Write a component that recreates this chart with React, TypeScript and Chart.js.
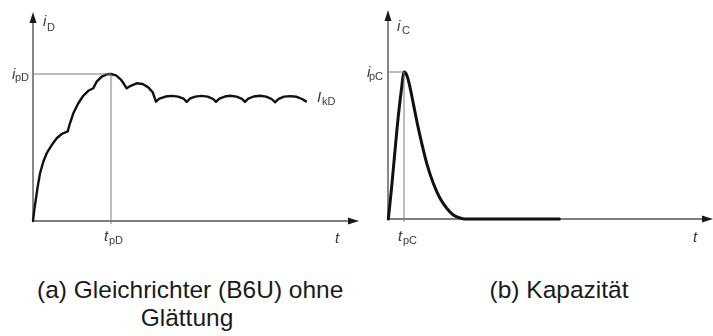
import React, { useEffect, useRef } from "react";
import { Chart, registerables } from "chart.js";

Chart.register(...registerables);

// ---- Panel (a): rectifier current i_D (x: t / t_pD, y: i / i_pD)
const diodeT = [
  0, 0.017, 0.035, 0.06, 0.09, 0.132, 0.176, 0.24, 0.304, 0.368, 0.445,
  0.474, 0.517, 0.581, 0.645, 0.709, 0.773,
  0.817, 0.881, 0.945, 1.0, 1.064, 1.124, 1.167, 1.201,
  1.253, 1.329, 1.406, 1.478, 1.535, 1.577,
  1.62, 1.7, 1.78, 1.86, 1.93, 1.971,
  2.01, 2.08, 2.16, 2.24, 2.31, 2.346,
  2.39, 2.46, 2.53, 2.61, 2.68, 2.718,
  2.76, 2.83, 2.91, 2.99, 3.06, 3.103,
  3.15, 3.22, 3.3, 3.38, 3.45, 3.5,
];
const diodeI = [
  0, 0.075, 0.143, 0.233, 0.324, 0.403, 0.461, 0.517, 0.563, 0.592, 0.61,
  0.665, 0.733, 0.801, 0.852, 0.886, 0.903,
  0.948, 0.982, 0.998, 1.0, 0.991, 0.964, 0.932, 0.903,
  0.92, 0.937, 0.932, 0.909, 0.876, 0.812,
  0.832, 0.847, 0.851, 0.846, 0.832, 0.81,
  0.832, 0.846, 0.851, 0.846, 0.83, 0.811,
  0.833, 0.847, 0.852, 0.846, 0.831, 0.81,
  0.832, 0.847, 0.852, 0.846, 0.83, 0.808,
  0.831, 0.846, 0.85, 0.845, 0.83, 0.814,
];
const diodePeakT = 1; // t_pD
const diodePeakI = 1; // i_pD
const diodeXMax = 4.18;
const diodeYMax = 1.422;

// ---- Panel (b): capacitor current i_C (x: t / t_pC, y: i / i_pC)
const capT = [
  0.02, 0.23, 0.44, 0.64, 0.86, 1.0, 1.17, 1.375, 1.58, 1.83, 2.11, 2.42,
  2.83, 3.25, 3.67, 4.08, 4.5, 4.81, 10.71,
];
const capI = [
  0, 0.22, 0.469, 0.696, 0.9, 1.0, 0.98, 0.896, 0.787, 0.651, 0.515, 0.379,
  0.243, 0.141, 0.073, 0.027, 0.007, 0, 0,
];
const capPeakT = 1; // t_pC
const capPeakI = 1; // i_pC
const capXMax = 20.31;
const capYMax = 1.422;

const captionA = ["(a) Gleichrichter (B6U) ohne", "Glättung"];
const captionB = "(b) Kapazität";

type Lbl = { main: string; sub: string; at: (s: any) => [number, number]; subDx: number; subDy: number };

function drawLabel(ctx: CanvasRenderingContext2D, x: number, y: number, main: string, sub: string, subDx: number, subDy: number) {
  ctx.fillStyle = "#3a3a3a";
  ctx.textBaseline = "alphabetic";
  ctx.textAlign = "left";
  ctx.font = "italic 15px 'Liberation Sans', Arial, sans-serif";
  ctx.fillText(main, x, y);
  if (sub) {
    ctx.font = "11px 'Liberation Sans', Arial, sans-serif";
    ctx.fillText(sub, x + subDx, y + subDy);
  }
}

function makePlugin(labels: Lbl[]) {
  return {
    id: "axesAndLabels",
    beforeDatasetsDraw(chart: any) {
      const { ctx, chartArea, scales } = chart;
      const x0 = scales.x.getPixelForValue(0);
      const y0 = scales.y.getPixelForValue(0);
      ctx.save();
      ctx.strokeStyle = "#555";
      ctx.fillStyle = "#1a1a1a";
      ctx.lineWidth = 1.4;
      ctx.beginPath();
      ctx.moveTo(x0, y0 + 1);
      ctx.lineTo(x0, chartArea.top + 8);
      ctx.stroke();
      ctx.beginPath();
      ctx.moveTo(x0, chartArea.top);
      ctx.lineTo(x0 - 3.5, chartArea.top + 11);
      ctx.lineTo(x0 + 3.5, chartArea.top + 11);
      ctx.closePath();
      ctx.fill();
      ctx.beginPath();
      ctx.moveTo(x0, y0);
      ctx.lineTo(chartArea.right - 8, y0);
      ctx.stroke();
      ctx.beginPath();
      ctx.moveTo(chartArea.right, y0);
      ctx.lineTo(chartArea.right - 11, y0 - 3.5);
      ctx.lineTo(chartArea.right - 11, y0 + 3.5);
      ctx.closePath();
      ctx.fill();
      ctx.restore();
    },
    afterDatasetsDraw(chart: any) {
      const { ctx, scales } = chart;
      ctx.save();
      for (const l of labels) {
        const [x, y] = l.at(scales);
        drawLabel(ctx, x, y, l.main, l.sub, l.subDx, l.subDy);
      }
      ctx.restore();
    },
  };
}

function Panel(props: {
  left: number; width: number; padding: any; xMax: number; yMax: number;
  tx: number[]; iy: number[]; peakT: number; peakI: number; lw: number; tension: number; labels: Lbl[];
}) {
  const ref = useRef<HTMLCanvasElement>(null);
  useEffect(() => {
    const curve = props.tx.map((t, k) => ({ x: t, y: props.iy[k] }));
    const chart = new Chart(ref.current as HTMLCanvasElement, {
      type: "line",
      data: {
        datasets: [
          {
            data: [{ x: 0, y: props.peakI }, { x: props.peakT, y: props.peakI }],
            borderColor: "#7a7a7a", borderWidth: 1, pointRadius: 0, clip: false as any,
          },
          {
            data: [{ x: props.peakT, y: -0.02 }, { x: props.peakT, y: props.peakI }],
            borderColor: "#7a7a7a", borderWidth: 1, pointRadius: 0, clip: false as any,
          },
          {
            data: curve,
            borderColor: "#111", borderWidth: props.lw, pointRadius: 0,
            tension: props.tension, clip: false as any, borderJoinStyle: "round", borderCapStyle: "round",
          },
        ],
      },
      options: {
        animation: false,
        responsive: false,
        devicePixelRatio: 1,
        layout: { padding: props.padding },
        plugins: { legend: { display: false }, tooltip: { enabled: false } },
        events: [],
        scales: {
          x: { type: "linear", min: 0, max: props.xMax, display: false },
          y: { type: "linear", min: 0, max: props.yMax, display: false },
        },
      },
      plugins: [makePlugin(props.labels)],
    } as any);
    return () => chart.destroy();
  }, []);
  return (
    <canvas
      ref={ref}
      width={props.width}
      height={250}
      style={{ position: "absolute", left: props.left, top: 0, width: props.width, height: 250 }}
    />
  );
}

const capStyle: React.CSSProperties = {
  position: "absolute",
  top: 275.5,
  textAlign: "center",
  fontFamily: "'Liberation Sans', Arial, sans-serif",
  fontSize: 24.5,
  lineHeight: "28px",
  color: "#1a1a1a",
  whiteSpace: "nowrap",
};

export default function App() {
  const leftLabels: Lbl[] = [
    { main: "i", sub: "D", subDx: 4, subDy: 5, at: (s) => [s.x.getPixelForValue(0) + 10, s.y.getPixelForValue(diodeYMax) + 14] },
    { main: "i", sub: "pD", subDx: 3, subDy: 2, at: (s) => [s.x.getPixelForValue(0) - 21, s.y.getPixelForValue(diodePeakI) + 5] },
    { main: "t", sub: "pD", subDx: 5, subDy: 3, at: (s) => [s.x.getPixelForValue(diodePeakT) - 7, s.y.getPixelForValue(0) + 20] },
    { main: "t", sub: "", subDx: 0, subDy: 0, at: (s) => [s.x.getPixelForValue(diodeXMax) - 24, s.y.getPixelForValue(0) + 22] },
    { main: "I", sub: "kD", subDx: 5, subDy: 3, at: (s) => [s.x.getPixelForValue(diodeT[diodeT.length - 1]) + 11, s.y.getPixelForValue(diodeI[diodeI.length - 1]) + 1] },
  ];
  const rightLabels: Lbl[] = [
    { main: "i", sub: "C", subDx: 5, subDy: 3, at: (s) => [s.x.getPixelForValue(0) + 9, s.y.getPixelForValue(capYMax) + 21] },
    { main: "i", sub: "pC", subDx: 2, subDy: 3, at: (s) => [s.x.getPixelForValue(0) - 21, s.y.getPixelForValue(capPeakI) + 5] },
    { main: "t", sub: "pC", subDx: 5, subDy: 3, at: (s) => [s.x.getPixelForValue(capPeakT) - 6, s.y.getPixelForValue(0) + 22] },
    { main: "t", sub: "", subDx: 0, subDy: 0, at: (s) => [s.x.getPixelForValue(capXMax) - 20, s.y.getPixelForValue(0) + 23] },
  ];
  return (
    <div style={{ position: "fixed", left: 0, top: 0, width: 713, height: 336, background: "#fff", overflow: "hidden" }}>
      <Panel left={0} width={360} padding={{ left: 33, right: 1, top: 12, bottom: 29 }} xMax={diodeXMax} yMax={diodeYMax}
        tx={diodeT} iy={diodeI} peakT={diodePeakT} peakI={diodePeakI} lw={2.4} tension={0} labels={leftLabels} />
      <Panel left={360} width={353} padding={{ left: 28, right: 0, top: 10, bottom: 31 }} xMax={capXMax} yMax={capYMax}
        tx={capT} iy={capI} peakT={capPeakT} peakI={capPeakI} lw={3} tension={0.3} labels={rightLabels} />
      <div style={{ ...capStyle, left: 37, width: 300 }}>
        {captionA[0]}
        <br />
        {captionA[1]}
      </div>
      <div style={{ ...capStyle, left: 459, width: 200 }}>{captionB}</div>
    </div>
  );
}
